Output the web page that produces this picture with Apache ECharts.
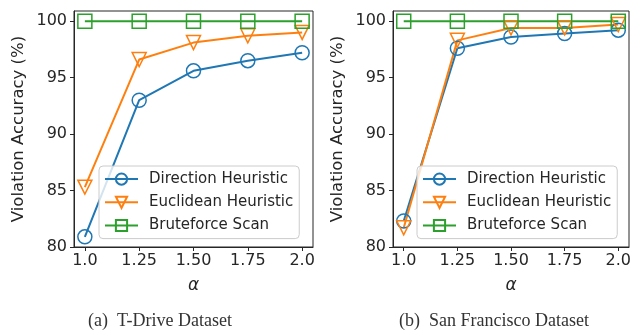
<!DOCTYPE html>
<html>
<head>
<meta charset="utf-8">
<script src="https://cdn.jsdelivr.net/npm/echarts@6/dist/echarts.min.js"></script>
<style>
  html, body { margin: 0; padding: 0; background: #fff; }
  #chart { width: 634px; height: 331px; }
</style>
</head>
<body>
<div id="chart"></div>
<script>
// alpha values on the x axis
const alphas = [1.0, 1.25, 1.5, 1.75, 2.0]
const xTickLabels = ['1.0', '1.25', '1.50', '1.75', '2.0']
const yTicks = [80, 85, 90, 95, 100]

// (a) T-Drive
const tdriveDirection = [80.9, 93.0, 95.6, 96.5, 97.2]
const tdriveEuclidean = [85.3, 96.6, 98.1, 98.7, 99.0]
const tdriveBrute = [100, 100, 100, 100, 100]

// (b) San Francisco
const sfDirection = [82.3, 97.6, 98.6, 98.9, 99.2]
const sfEuclidean = [81.7, 98.3, 99.4, 99.4, 99.7]
const sfBrute = [100, 100, 100, 100, 100]

const names = ['Direction Heuristic', 'Euclidean Heuristic', 'Bruteforce Scan']
const captions = ['(a)  T-Drive Dataset', '(b)  San Francisco Dataset']
const colors = ['#1f77b4', '#ff7f0e', '#2ca02c']
const symbols = ['circle', 'triangle', 'rect']
const rotates = [0, 180, 0]

const font = 'DejaVu Sans'
const axisColor = '#262626'

function pairs(ys) {
  return alphas.map((x, i) => [x, ys[i]])
}

function makeSeries(idx, data, gridIdx) {
  return {
    name: names[idx],
    type: 'line',
    xAxisIndex: gridIdx,
    yAxisIndex: gridIdx,
    data: pairs(data),
    symbol: symbols[idx],
    symbolSize: 14,
    symbolRotate: rotates[idx],
    showAllSymbol: true,
    animation: false,
    lineStyle: { color: colors[idx], width: 2 },
    itemStyle: { color: 'none', borderColor: colors[idx], borderWidth: 1.5 },
    emphasis: { disabled: true }
  }
}

function makeX(gridIdx) {
  return {
    type: 'value',
    gridIndex: gridIdx,
    min: 0.95,
    max: 2.05,
    name: 'α',
    nameLocation: 'middle',
    nameGap: 30,
    nameTextStyle: { fontFamily: font, fontSize: 17, fontStyle: 'italic', color: axisColor },
    splitLine: { show: false },
    axisLine: { show: true, onZero: false, lineStyle: { color: axisColor, width: 1 } },
    axisTick: { show: true, customValues: alphas, length: 4, lineStyle: { color: axisColor } },
    axisLabel: {
      customValues: alphas,
      fontFamily: font,
      fontSize: 16,
      color: axisColor,
      margin: 6,
      formatter: v => xTickLabels[alphas.indexOf(v)]
    }
  }
}

function makeY(gridIdx) {
  return {
    type: 'value',
    gridIndex: gridIdx,
    min: 80,
    max: 100.9,
    name: 'Violation Accuracy (%)',
    nameLocation: 'middle',
    nameRotate: 90,
    nameGap: 47,
    nameTextStyle: { fontFamily: font, fontSize: 16.5, color: axisColor },
    splitLine: { show: false },
    axisLine: { show: true, onZero: false, lineStyle: { color: axisColor, width: 1 } },
    axisTick: { show: true, customValues: yTicks, length: 4, lineStyle: { color: axisColor } },
    axisLabel: {
      customValues: yTicks,
      fontFamily: font,
      fontSize: 16,
      color: axisColor,
      margin: 7
    }
  }
}

function makeLegend(left) {
  return {
    data: names.map(n => ({ name: n })),
    left: left,
    top: 166,
    orient: 'vertical',
    itemWidth: 33,
    itemHeight: 14,
    itemGap: 7,
    padding: [5, 6, 5, 5],
    backgroundColor: 'rgba(255,255,255,0.8)',
    borderColor: '#cccccc',
    borderWidth: 1,
    borderRadius: 4,
    selectedMode: false,
    textStyle: { fontFamily: font, fontSize: 15, color: axisColor, padding: [0, 0, 0, 6] }
  }
}

const chart = echarts.init(document.getElementById('chart'), null, { renderer: 'canvas' })

chart.setOption({
  backgroundColor: '#fff',
  animation: false,
  grid: [
    { left: 74, top: 11, width: 239, height: 236, show: true, borderColor: axisColor, borderWidth: 1, backgroundColor: 'transparent' },
    { left: 393, top: 11, width: 239, height: 236, show: true, borderColor: axisColor, borderWidth: 1, backgroundColor: 'transparent' }
  ],
  xAxis: [makeX(0), makeX(1)],
  yAxis: [makeY(0), makeY(1)],
  legend: [makeLegend(99), makeLegend(417)],
  series: [
    makeSeries(0, tdriveDirection, 0),
    makeSeries(1, tdriveEuclidean, 0),
    makeSeries(2, tdriveBrute, 0),
    makeSeries(0, sfDirection, 1),
    makeSeries(1, sfEuclidean, 1),
    makeSeries(2, sfBrute, 1)
  ],
  graphic: [
    {
      type: 'text', x: 160, y: 321,
      style: { text: captions[0], font: '18px "Liberation Serif", serif', fill: '#333', align: 'center', verticalAlign: 'middle' }
    },
    {
      type: 'text', x: 494, y: 321,
      style: { text: captions[1], font: '18px "Liberation Serif", serif', fill: '#333', align: 'center', verticalAlign: 'middle' }
    }
  ]
})
</script>
</body>
</html>
